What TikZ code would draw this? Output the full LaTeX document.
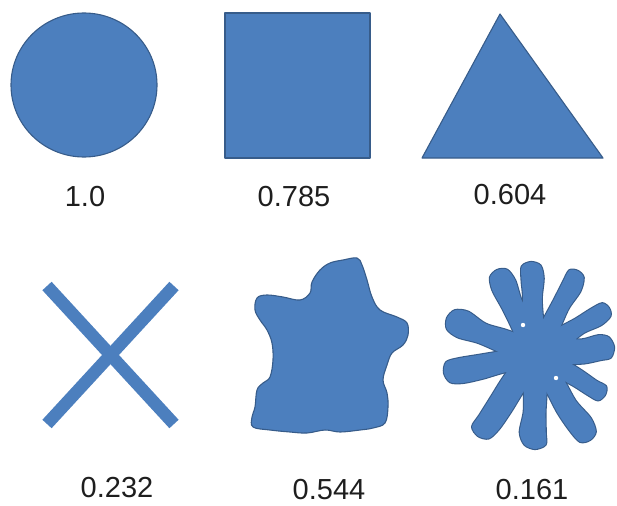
\documentclass[tikz,border=0pt]{standalone}
\usepackage{fontspec}
\setmainfont{Liberation Sans}
\usepackage{tikz}
\usetikzlibrary{positioning}
\definecolor{shapeblue}{RGB}{76,127,190}
\definecolor{shapeedge}{RGB}{55,92,138}
\definecolor{labelgray}{RGB}{30,30,30}

\begin{document}
\begin{tikzpicture}[x=1pt, y=-1pt,
    every node/.style={font=\fontsize{29}{34}\selectfont, text=labelgray, inner sep=0pt},
    solid shape/.style={fill=shapeblue, draw=shapeedge, line width=1.1pt, line join=round},
    crossbar/.style={draw=shapeblue, line width=12.5pt},
    armedge/.style={fill=shapeedge, draw=shapeedge, line width=2.2pt, line join=round},
    armfill/.style={fill=shapeblue}]
  \useasboundingbox (0,0) rectangle (617,505);

  % TOP ROW
  \draw[solid shape] (84,85) ellipse [x radius=73, y radius=72];
  \draw[solid shape] (225,13) rectangle (370,158);
  \draw[solid shape] (500,14) -- (603,158) -- (422,158) -- cycle;

  \node (lblcircle)   at (85,197)  {1.0};
  \node (lblsquare)   at (294,197) {0.785};
  \node (lbltriangle) at (510,195) {0.604};

  % CROSS
  \draw[crossbar] (47,286) -- (174,424);
  \draw[crossbar] (174,286) -- (47,424);

  % BLOB
  \draw[solid shape] plot[smooth cycle, tension=0.6] coordinates {
    (257,298) (267,295) (283,297) (300,300) (310,293) (312,282) (320,270)
    (330,263) (343,260) (357,258) (362,265) (367,280) (372,297) (380,310)
    (397,317) (407,323) (408,335) (403,345) (392,353) (387,365) (383,380)
    (387,393) (388,407) (385,423) (373,428) (360,430) (340,432) (325,430)
    (307,433) (290,432) (270,430) (253,427) (252,417) (255,407) (257,390)
    (263,383) (270,377) (273,360) (272,343) (267,330) (260,320) (255,310)};

  % STAR (same seed in both passes -> same wobbly arms)
  \coordinate (starcen) at (535,355);
  \foreach \pass in {armedge, armfill} {
    \pgfmathsetseed{17}
    \path[\pass] (starcen) circle [radius=27];
    \foreach \tx/\ty/\w in {497/270/22, 531/262/22, 578/271/19, 609/308/18,
                            614/347/24, 605/395/19, 590/440/22, 535/449/25,
                            478/436/24, 444/373/24, 447/318/24} {
      \pgfmathsetmacro\len{veclen(\tx-535,\ty-355)}
      \pgfmathsetmacro\ang{atan2(355-\ty,\tx-535)}
      \pgfmathsetmacro\h{\w/2}
      \pgfmathsetmacro\ra{0.85+0.30*rnd}
      \pgfmathsetmacro\rb{0.80+0.35*rnd}
      \pgfmathsetmacro\rc{0.90+0.35*rnd}
      \pgfmathsetmacro\rd{0.85+0.30*rnd}
      \pgfmathsetmacro\re{0.80+0.35*rnd}
      \pgfmathsetmacro\rf{0.90+0.35*rnd}
      \begin{scope}[shift={(starcen)}, rotate=\ang]
        \path[\pass] plot[smooth cycle, tension=0.5] coordinates {
          (0,\h) ({0.35*\len},{\h*\ra}) ({0.6*\len},{\h*\rb}) ({0.82*\len},{\h*\rc})
          ({\len-0.35*\h},{0.85*\h}) (\len,0) ({\len-0.35*\h},{-0.85*\h})
          ({0.82*\len},{-\h*\rd}) ({0.6*\len},{-\h*\re}) ({0.35*\len},{-\h*\rf}) (0,-\h)};
      \end{scope}
    }
  }
  \fill[white] (523,325) circle [radius=2.2];
  \fill[white] (556,378) circle [radius=2.2];

  \node (lblcross) at (117,488) {0.232};
  \node (lblblob)  at (329,490) {0.544};
  \node (lblstar)  at (532,490) {0.161};
\end{tikzpicture}
\end{document}
